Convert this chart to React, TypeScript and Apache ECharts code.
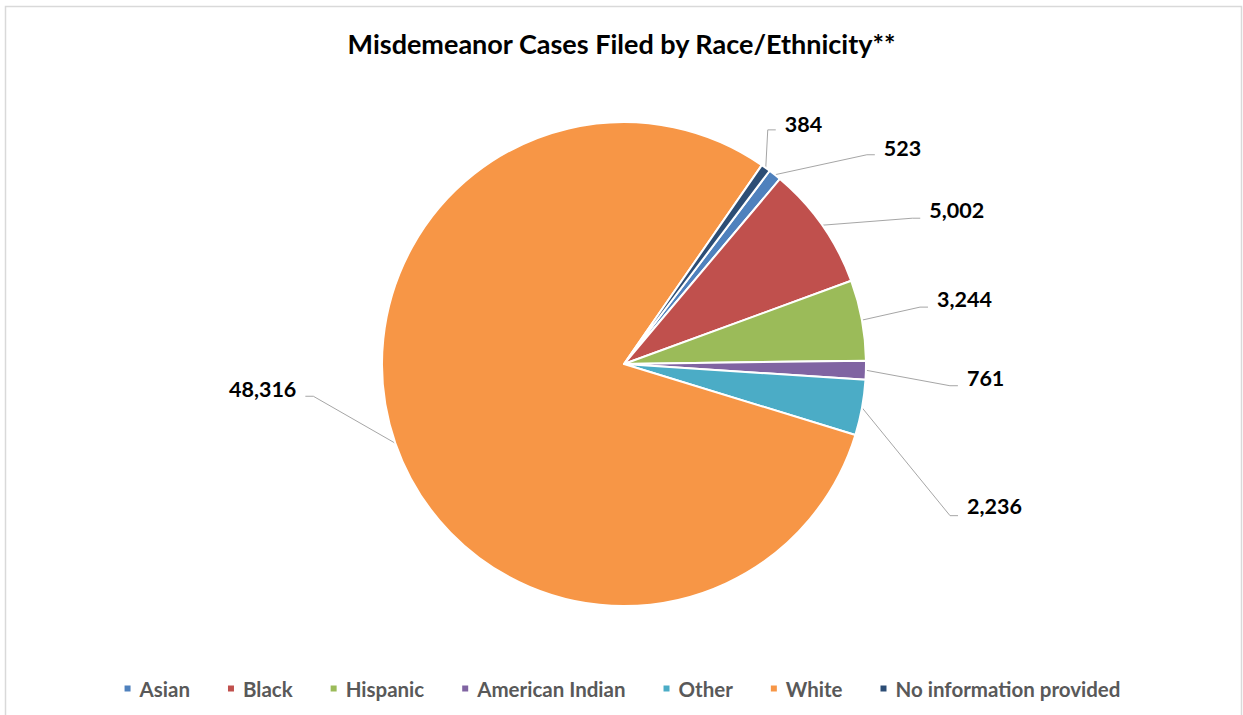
import React, { useEffect, useRef } from 'react';
import * as echarts from 'echarts';

const categories = ['Asian', 'Black', 'Hispanic', 'American Indian', 'Other', 'White', 'No information provided'];
const values = [523, 5002, 3244, 761, 2236, 48316, 384];
const colors = ['#4F81BD', '#C0504D', '#9BBB59', '#8064A2', '#4BACC6', '#F79646', '#2C4D75'];

// leader-line elbow offsets from the slice edge, and label vertical nudges (layout only)
const elbowOffsets = [[92, -20], [90, -7], [58, -13], [84, 15.5], [88, 108], [-82, -47], [2, -38]];
const labelNudge = [-7, -8, -8, -8, -10, -7, -6];

const CX = 624;
const CY = 364;
const R = 242;
const START = 53; // degrees, counter-clockwise from 3 o'clock

export default function App() {
  const ref = useRef<HTMLDivElement>(null);
  useEffect(() => {
    if (!ref.current) return;
    const chart = echarts.init(ref.current, null, { renderer: 'svg' });
    const total = values.reduce((a, b) => a + b, 0);
    const mids: number[] = [];
    let acc = 0;
    values.forEach((v) => {
      mids.push(START - ((acc + v / 2) / total) * 360);
      acc += v;
    });
    const font = 'Lato, "Noto Sans", sans-serif';
    chart.setOption({
      animation: false,
      color: colors,
      title: {
        text: 'Misdemeanor Cases Filed by Race/Ethnicity**',
        left: 'center',
        top: 25,
        textStyle: { fontFamily: font, fontWeight: 'bold', fontSize: 27, color: '#000' },
      },
      legend: {
        data: categories,
        left: 'center',
        top: 673,
        icon: 'rect',
        itemWidth: 8,
        itemHeight: 8,
        itemGap: 36,
        textStyle: { fontFamily: font, fontWeight: 'bold', fontSize: 20.5, color: '#595959', padding: [0, 0, 0, 3] },
      },
      graphic: [
        {
          type: 'rect',
          shape: { x: 5.5, y: 6.5, width: 1236, height: 730 },
          style: { fill: 'none', stroke: '#d9d9d9', lineWidth: 1.5 },
          silent: true,
        },
      ],
      series: [
        {
          type: 'pie',
          center: [CX, CY],
          radius: R,
          startAngle: START,
          clockwise: true,
          avoidLabelOverlap: false,
          itemStyle: { borderColor: '#fff', borderWidth: 2 },
          label: {
            show: true,
            position: 'outside',
            fontFamily: font,
            fontWeight: 'bold',
            fontSize: 21.5,
            color: '#000',
            formatter: (p: any) => Number(p.value).toLocaleString('en-US'),
          },
          labelLine: { show: true, length: 20, length2: 8, lineStyle: { color: '#a6a6a6', width: 1 } },
          labelLayout: (p: any) => {
            const i = p.dataIndex;
            const a = (mids[i] * Math.PI) / 180;
            const x0 = CX + R * Math.cos(a);
            const y0 = CY - R * Math.sin(a);
            const [dx, dy] = elbowOffsets[i];
            const ex = x0 + dx;
            const ey = y0 + dy;
            const dir = dx >= 0 ? 1 : -1;
            const endX = ex + dir * 8;
            return {
              x: endX + dir * 9,
              y: ey + labelNudge[i],
              align: dir > 0 ? 'left' : 'right',
              verticalAlign: 'middle',
              labelLinePoints: [[x0, y0], [ex, ey], [endX, ey]],
            };
          },
          emphasis: { disabled: true },
          data: categories.map((name, i) => ({ name, value: values[i] })),
        },
      ],
    });
    return () => chart.dispose();
  }, []);
  return (
    <div
      ref={ref}
      style={{ position: 'absolute', left: 0, top: 0, width: 1243, height: 715, background: '#fff' }}
    />
  );
}
